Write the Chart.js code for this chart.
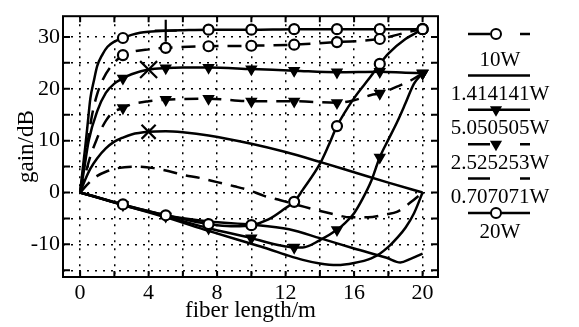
<!DOCTYPE html>
<html>
<head>
<meta charset="utf-8">
<script src="https://cdn.jsdelivr.net/npm/chart.js@4.4.1/dist/chart.umd.min.js"></script>
<style>
  html, body { margin: 0; padding: 0; background: #fff; }
  #chart { display: block; }
</style>
</head>
<body>
<canvas id="chart" width="579" height="327"></canvas>
<script>
// axis ticks
const xTicks = [0, 2, 4, 6, 8, 10, 12, 14, 16, 18, 20];
const xTickLabels = [0, 4, 8, 12, 16, 20];
const yTicks = [-15, -10, -5, 0, 5, 10, 15, 20, 25, 30];
const yTickLabels = [-10, 0, 10, 20, 30];

const legendLabels = ['10W', '1.414141W', '5.050505W', '2.525253W', '0.707071W', '20W'];

// 20W (solid, circles)
const w20FwdX = [0, 0.15, 0.3, 0.45, 0.6, 0.8, 1, 1.3, 1.6, 2, 2.5, 3, 3.5, 4, 5, 6, 7.5, 10, 12.5, 15, 17.5, 20];
const w20FwdY = [0, 4.5, 8.8, 13.5, 18.2, 21.5, 24.4, 26.6, 28.1, 29.1, 29.8, 30.4, 30.8, 31, 31.2, 31.3, 31.4, 31.4, 31.5, 31.5, 31.5, 31.5];
const w20BwdX = [0, 1, 2, 2.5, 3, 4, 5, 6, 7, 7.5, 8, 9, 10, 11, 12, 12.5, 13, 14, 14.5, 15, 16, 17, 17.5, 18, 19, 20];
const w20BwdY = [0, -0.9, -1.9, -2.3, -2.8, -3.6, -4.4, -5.1, -5.8, -6.1, -6.3, -6.5, -6.3, -5.2, -3, -1.8, 0.5, 5.5, 9, 12.8, 18.2, 22.5, 24.8, 26.8, 29.6, 31.5];

// 10W (dashed, circles)
const w10X = [0, 0.2, 0.4, 0.7, 1, 1.3, 1.75, 2.5, 3, 4, 5, 7.5, 10, 12.5, 15, 17.5, 18.5, 19.2, 20];
const w10Y = [0, 4.5, 8.8, 15, 19, 21.6, 24.1, 26.5, 27.1, 27.6, 27.9, 28.2, 28.3, 28.5, 29, 29.6, 30.4, 31, 31.5];

// 5.050505W (solid, triangles)
const w505FwdX = [0, 0.2, 0.5, 1, 1.5, 2, 2.5, 3, 4, 5, 6, 7.5, 10, 12.5, 15, 17.5, 19, 20];
const w505FwdY = [0, 3.75, 10, 15.7, 19.2, 21, 22, 22.8, 23.7, 24, 24.1, 24.1, 23.8, 23.5, 23.2, 23.3, 23.1, 23];
const w505BwdX = [0, 2.5, 5, 7.5, 10, 11, 12, 12.5, 13, 14, 15, 15.5, 16, 16.5, 17, 17.5, 18, 18.5, 19, 19.5, 20];
const w505BwdY = [0, -2.4, -4.6, -6.9, -8.8, -9.7, -10.4, -10.6, -10.6, -9.2, -7.2, -5.8, -4, -1.2, 2.2, 6.8, 10.2, 13.5, 17.2, 21, 23];

// 2.525253W (dashed, triangles)
const w2525X = [0, 0.3, 0.6, 1, 1.2, 1.5, 1.85, 2.5, 3, 4, 5, 7.5, 10, 12.5, 15, 16, 17, 17.5, 18.5, 19.3, 20];
const w2525Y = [0, 3.5, 7, 10.5, 12, 13.8, 15.3, 16.3, 17, 17.6, 17.9, 18.1, 17.6, 17.6, 17.3, 17.8, 18.8, 19.1, 20.4, 21.6, 23];

// 1.414141W (solid)
const w1414FwdX = [0, 0.3, 0.6, 1, 1.5, 2, 2.5, 3, 4, 5, 6, 7.5, 10, 12, 14, 16, 18, 20];
const w1414FwdY = [0, 2.5, 4.6, 6.6, 8.5, 9.8, 10.6, 11.2, 11.7, 11.8, 11.6, 11, 9.4, 7.8, 5.9, 3.9, 1.9, 0];
const w1414BwdX = [0, 2.5, 5, 7.5, 10, 11, 12, 13, 14, 15, 16, 17, 17.5, 18, 18.5, 19, 19.5, 20];
const w1414BwdY = [0, -2.4, -4.8, -7.4, -9.9, -10.9, -12, -13, -13.7, -14, -13.6, -12.7, -11.8, -10.5, -8.8, -6.8, -4, 0];

// 0.707071W (dashed)
const w0707X = [0, 0.5, 1, 1.5, 2.2, 3.3, 4.3, 5.2, 6, 7, 8, 9, 9.9, 10.7, 11.7, 12.8, 13.8, 14.7, 15.8, 16.8, 17.9, 18.5, 19.3, 20];
const w0707Y = [0, 1.8, 3.2, 4, 4.7, 5, 4.7, 4.1, 3.4, 2.8, 2, 1.2, 0.4, -0.6, -1.5, -2.5, -3.4, -4.1, -4.8, -4.8, -4.2, -3.75, -1.9, 0];

// lowest curve
const lowX = [0, 2.5, 5, 7.5, 10, 12.2, 14, 16, 17.9, 18.7, 19.3, 20];
const lowY = [0, -2.3, -4.4, -5.6, -6.2, -7.1, -8.8, -10.8, -12.6, -13.5, -12.8, -11.8];

const dashed = [14, 9];

function pts(xs, ys) {
    return xs.map((x, i) => ({ x: x, y: ys[i] }));
}

function onStep(x) {
    return x > 0 && Math.abs(x / 2.5 - Math.round(x / 2.5)) < 1e-9;
}

function makeSet(label, xs, ys, dash, marker, cross) {
    return {
        label: label,
        data: pts(xs, ys),
        borderColor: '#000',
        borderWidth: 2.5,
        borderDash: dash,
        cubicInterpolationMode: 'monotone',
        marker: marker,
        pointStyle: ctx => (cross && ctx.raw && ctx.raw.x === cross.x) ? cross.style : (marker || 'circle'),
        pointRotation: marker === 'triangle' ? 180 : 0,
        pointRadius: ctx => {
            const x = ctx.raw ? ctx.raw.x : -1;
            if (cross && x === cross.x) return cross.size;
            return marker && onStep(x) ? 5 : 0;
        },
        pointBorderColor: '#000',
        pointBorderWidth: 2.2,
        pointBackgroundColor: marker === 'triangle' ? '#000' : '#fff',
        pointHoverRadius: 0
    };
}

const datasets = [
    makeSet('10W', w10X, w10Y, dashed, 'circle'),
    makeSet('1.414141W', w1414FwdX, w1414FwdY, [], null, { x: 4, style: 'crossRot', size: 10 }),
    makeSet('5.050505W', w505FwdX, w505FwdY, [], 'triangle', { x: 4, style: 'crossRot', size: 12 }),
    makeSet('2.525253W', w2525X, w2525Y, dashed, 'triangle'),
    makeSet('0.707071W', w0707X, w0707Y, dashed, null),
    makeSet('20W', w20FwdX, w20FwdY, [], 'circle', { x: 5, style: 'cross', size: 11 }),
    makeSet('', w20BwdX, w20BwdY, [], 'circle'),
    makeSet('', w505BwdX, w505BwdY, [], 'triangle'),
    makeSet('', w1414BwdX, w1414BwdY, [], null),
    makeSet('', lowX, lowY, [], null)
];

// box around the plot with inward ticks
const frame = {
    id: 'frame',
    afterDatasetsDraw(chart) {
        const { ctx, chartArea: a, scales } = chart;
        ctx.save();
        ctx.strokeStyle = '#000';
        ctx.lineWidth = 2;
        ctx.setLineDash([]);
        ctx.strokeRect(a.left, a.top, a.right - a.left, a.bottom - a.top);
        ctx.beginPath();
        xTicks.forEach(v => {
            const px = scales.x.getPixelForValue(v);
            ctx.moveTo(px, a.bottom); ctx.lineTo(px, a.bottom - 6);
            ctx.moveTo(px, a.top); ctx.lineTo(px, a.top + 6);
        });
        yTicks.forEach(v => {
            const py = scales.y.getPixelForValue(v);
            ctx.moveTo(a.left, py); ctx.lineTo(a.left + 7, py);
            ctx.moveTo(a.right, py); ctx.lineTo(a.right - 7, py);
        });
        ctx.stroke();
        ctx.restore();
    }
};

// legend: line sample above each label
const sideLegend = {
    id: 'sideLegend',
    afterDraw(chart) {
        const ctx = chart.ctx;
        const cx = 500;
        ctx.save();
        ctx.font = '21px "Liberation Serif"';
        ctx.textAlign = 'center';
        ctx.textBaseline = 'middle';
        ctx.fillStyle = '#000';
        ctx.strokeStyle = '#000';
        legendLabels.forEach((label, i) => {
            const ds = chart.data.datasets.find(d => d.label === label);
            const ty = 60 + 34.4 * i;
            const ly = i === 0 ? ty - 26 : ty - 19;
            ctx.lineWidth = 2.5;
            ctx.setLineDash(ds.borderDash.length ? [22, 30] : []);
            ctx.beginPath();
            ctx.moveTo(cx - 32, ly);
            ctx.lineTo(cx + 30, ly);
            ctx.stroke();
            ctx.setLineDash([]);
            if (ds.marker) {
                ctx.fillStyle = ds.pointBackgroundColor;
                ctx.lineWidth = 2;
                Chart.helpers.drawPoint(ctx, {
                    pointStyle: ds.marker,
                    radius: 5,
                    rotation: ds.marker === 'triangle' ? 180 : 0,
                    borderWidth: 2
                }, cx - 4, ly);
                ctx.fillStyle = '#000';
            }
            ctx.fillText(label, cx, ty);
        });
        ctx.restore();
    }
};

const serif = '"Liberation Serif", "Times New Roman", serif';

new Chart(document.querySelector('#chart'), {
    type: 'line',
    data: { datasets: datasets },
    options: {
        responsive: false,
        animation: false,
        devicePixelRatio: 1,
        layout: { padding: { top: 9, right: 141, left: 0, bottom: 0 } },
        plugins: {
            legend: { display: false },
            tooltip: { enabled: false }
        },
        scales: {
            x: {
                type: 'linear',
                min: -1,
                max: 20.9,
                afterBuildTicks: axis => { axis.ticks = xTicks.map(v => ({ value: v })); },
                afterFit: axis => { axis.height = 50; },
                ticks: {
                    autoSkip: false,
                    maxRotation: 0,
                    padding: 3,
                    color: '#000',
                    font: { family: serif, size: 22 },
                    callback: v => xTickLabels.includes(v) ? String(v) : ''
                },
                grid: { color: '#000', lineWidth: 1.5, drawTicks: false },
                border: { display: false, dash: [2, 6] },
                title: {
                    display: true,
                    text: 'fiber length/m',
                    color: '#000',
                    font: { family: serif, size: 23 },
                    padding: { top: 0, bottom: 2 }
                }
            },
            y: {
                min: -16.3,
                max: 34,
                afterBuildTicks: axis => { axis.ticks = yTicks.map(v => ({ value: v })); },
                afterFit: axis => { axis.width = 63; },
                ticks: {
                    autoSkip: false,
                    padding: 3,
                    color: '#000',
                    font: { family: serif, size: 22 },
                    callback: v => yTickLabels.includes(v) ? String(v) : ''
                },
                grid: { color: '#000', lineWidth: 1.5, drawTicks: false },
                border: { display: false, dash: [2, 6] },
                title: {
                    display: true,
                    text: 'gain/dB',
                    color: '#000',
                    font: { family: serif, size: 23 },
                    padding: { top: 13, bottom: 0 }
                }
            }
        }
    },
    plugins: [frame, sideLegend]
});
</script>
</body>
</html>
